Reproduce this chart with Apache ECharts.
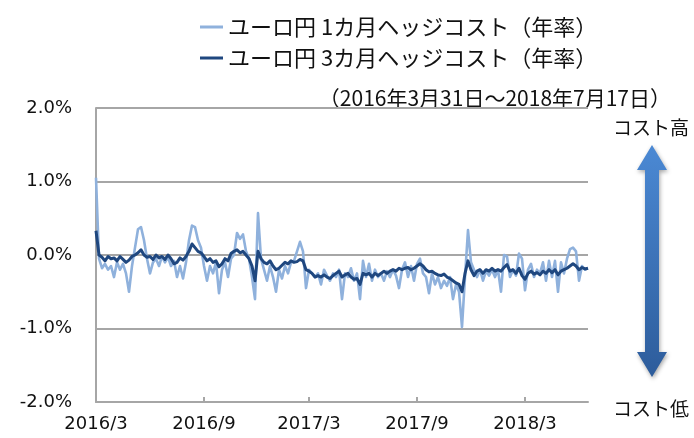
<!DOCTYPE html>
<html>
<head>
<meta charset="utf-8">
<script src="https://cdn.jsdelivr.net/npm/echarts@6/dist/echarts.min.js"></script>
<style>
html,body{margin:0;padding:0;background:#fff;}
#c{width:694px;height:438px;}
</style>
</head>
<body>
<div id="c"></div>
<script>
// ---- data (values in %) ----
const seriesNames = ['ユーロ円 1カ月ヘッジコスト（年率）', 'ユーロ円 3カ月ヘッジコスト（年率）'];
const subtitle = '（2016年3月31日～2018年7月17日）';
const startDate = '2016-03-31';
const endDate = '2018-07-17';
const tickLabels = ['2016/3', '2016/9', '2017/3', '2017/9', '2018/3'];
const tickIndex = [0, 36, 71, 107, 143];
const yTicks = [-2, -1, 0, 1, 2];

const hedge1M = [
  1.05, -0.05, -0.18, -0.12, -0.2, -0.15, -0.3, -0.1, -0.2, -0.12,
  -0.25, -0.5, -0.15, 0.1, 0.35, 0.38, 0.2, -0.05, -0.25, -0.1,
  -0.05, -0.15, -0.02, -0.1, -0.03, -0.15, -0.08, -0.3, -0.15, -0.32,
  -0.1, 0.2, 0.4, 0.38, 0.2, 0.1, -0.15, -0.35, -0.15, -0.25,
  -0.1, -0.52, -0.2, -0.1, -0.3, -0.05, 0.0, 0.3, 0.22, 0.28,
  0.05, -0.05, -0.3, -0.6, 0.57, -0.05, -0.2, -0.35, -0.15, -0.3,
  -0.5, -0.2, -0.32, -0.15, -0.25, -0.1, -0.08, 0.05, 0.18, 0.05,
  -0.45, -0.2, -0.25, -0.3, -0.25, -0.4, -0.2, -0.28, -0.35, -0.25,
  -0.3, -0.2, -0.6, -0.25, -0.3, -0.18, -0.35, -0.25, -0.6, -0.08,
  -0.3, -0.12, -0.35, -0.2, -0.3, -0.25, -0.35, -0.22, -0.3, -0.2,
  -0.28, -0.45, -0.2, -0.1, -0.3, -0.15, -0.35, -0.12, -0.05, -0.25,
  -0.3, -0.52, -0.25, -0.4, -0.3, -0.45, -0.35, -0.42, -0.3, -0.6,
  -0.4, -0.5, -0.98, -0.3, 0.34, -0.1, -0.2, -0.3, -0.2, -0.35,
  -0.22, -0.28, -0.2, -0.3, -0.2, -0.5, 0.0, -0.02, -0.3, -0.2,
  -0.28, 0.02, -0.05, -0.48, -0.2, -0.12, -0.3, -0.2, -0.25, -0.1,
  -0.35, -0.08, -0.3, -0.08, -0.5, -0.1, -0.25, -0.05, 0.08, 0.1,
  0.05, -0.35, -0.15, -0.2, -0.18
];
const hedge3M = [
  0.33, 0.0, -0.03, -0.08, -0.02, -0.05, -0.04, -0.08, -0.02, -0.06,
  -0.1, -0.07, -0.02, 0.0, 0.03, 0.07, 0.0, -0.03, -0.02, -0.06,
  0.0, -0.04, -0.02, -0.06, 0.0, -0.05, -0.12, -0.1, -0.04, -0.07,
  -0.02, 0.05, 0.15, 0.1, 0.05, 0.03, -0.02, -0.08, -0.05, -0.1,
  -0.08, -0.16, -0.12, -0.05, -0.08, 0.02, 0.05, 0.07, 0.03, 0.05,
  0.0, -0.05, -0.15, -0.35, 0.05, -0.05, -0.1, -0.12, -0.08, -0.15,
  -0.2, -0.18, -0.14, -0.1, -0.12, -0.08, -0.1, -0.09, -0.06, -0.08,
  -0.2, -0.22, -0.25, -0.3, -0.28, -0.3, -0.27, -0.3, -0.32, -0.28,
  -0.25, -0.22, -0.3, -0.27, -0.25, -0.3, -0.33, -0.32, -0.4, -0.25,
  -0.27, -0.25, -0.3, -0.25, -0.28, -0.25, -0.22, -0.25, -0.22, -0.2,
  -0.22, -0.18, -0.2, -0.18, -0.17, -0.2, -0.18, -0.15, -0.12, -0.15,
  -0.2, -0.23, -0.22, -0.25, -0.27, -0.28, -0.26, -0.3, -0.32, -0.35,
  -0.38, -0.4, -0.5, -0.25, -0.08, -0.2, -0.28, -0.22, -0.2, -0.25,
  -0.2, -0.22, -0.18, -0.22, -0.2, -0.22, -0.17, -0.13, -0.22, -0.2,
  -0.25, -0.18, -0.28, -0.33, -0.25, -0.22, -0.26, -0.24, -0.27, -0.22,
  -0.25, -0.2, -0.24, -0.2, -0.27, -0.22, -0.2, -0.18, -0.15, -0.12,
  -0.15, -0.2, -0.17, -0.19, -0.18
];

// category dates spread evenly between start and end (sampling positions)
const categories = (function () {
  const n = hedge1M.length;
  const t0 = Date.parse(startDate), t1 = Date.parse(endDate);
  const out = [];
  for (let i = 0; i < n; i++) {
    const d = new Date(t0 + (t1 - t0) * i / (n - 1));
    out.push(d.getUTCFullYear() + '/' + (d.getUTCMonth() + 1) + '/' + d.getUTCDate());
  }
  return out;
})();

const chart = echarts.init(document.getElementById('c'), null, {renderer: 'canvas'});
const showTick = (idx) => tickIndex.indexOf(idx) >= 0;
const gray = '#a6a6a6';
const jp = '"Noto Sans CJK JP", sans-serif';
const lightBlue = '#8fb1dc';
const darkBlue = '#1f477f';

chart.setOption({
  animation: false,
  backgroundColor: '#ffffff',
  grid: {left: 96, right: 106, top: 108, bottom: 36, containLabel: false},
  legend: {
    orient: 'vertical',
    left: 195,
    top: 10,
    itemWidth: 23,
    itemHeight: 3,
    itemGap: 7,
    data: [
      {name: seriesNames[0], icon: 'rect', itemStyle: {color: lightBlue}},
      {name: seriesNames[1], icon: 'rect', itemStyle: {color: darkBlue}}
    ],
    textStyle: {fontFamily: jp, fontSize: 22, color: '#111', lineHeight: 24}
  },
  xAxis: {
    type: 'category',
    data: categories,
    boundaryGap: false,
    axisLine: {show: true, onZero: false, lineStyle: {color: gray, width: 2}},
    axisTick: {show: true, inside: true, length: 5, interval: showTick, lineStyle: {color: gray, width: 2}},
    axisLabel: {
      interval: showTick,
      margin: 13,
      fontFamily: 'DejaVu Sans', fontSize: 18, color: '#111',
      formatter: (v, idx) => tickLabels[tickIndex.indexOf(idx)] || ''
    },
    splitLine: {show: false}
  },
  yAxis: {
    type: 'value',
    min: yTicks[0], max: yTicks[yTicks.length - 1], interval: 1,
    axisLine: {show: true, lineStyle: {color: gray, width: 2}},
    axisTick: {show: false},
    axisLabel: {
      margin: 24,
      fontFamily: 'DejaVu Sans', fontSize: 18, color: '#111',
      formatter: (v) => v.toFixed(1) + '%'
    },
    splitLine: {show: true, lineStyle: {color: gray, width: 2}}
  },
  series: [
    {
      name: seriesNames[0], type: 'line', data: hedge1M,
      symbol: 'none', lineStyle: {color: lightBlue, width: 2.6, join: 'round'},
      itemStyle: {color: lightBlue}, z: 2
    },
    {
      name: seriesNames[1], type: 'line', data: hedge3M,
      symbol: 'none', lineStyle: {color: darkBlue, width: 3, join: 'round'},
      itemStyle: {color: darkBlue}, z: 3
    }
  ],
  graphic: [
    {
      type: 'text', x: 671, y: 98,
      style: {text: subtitle, fontFamily: jp, fontSize: 21, fill: '#111', align: 'right', verticalAlign: 'middle'}
    },
    {
      type: 'text', x: 651, y: 128,
      style: {text: 'コスト高', fontFamily: jp, fontSize: 19, fill: '#111', align: 'center', verticalAlign: 'middle'}
    },
    {
      type: 'text', x: 651, y: 409,
      style: {text: 'コスト低', fontFamily: jp, fontSize: 19, fill: '#111', align: 'center', verticalAlign: 'middle'}
    },
    {
      type: 'polygon',
      shape: {points: [[652,145],[667,170],[659,170],[659,352],[667,352],[652,377],[637,352],[645,352],[645,170],[637,170]]},
      style: {
        fill: new echarts.graphic.LinearGradient(0, 0, 0, 1, [
          {offset: 0, color: '#4b89d4'}, {offset: 1, color: '#2d5c9b'}
        ]),
        shadowBlur: 4, shadowColor: 'rgba(0,0,0,0.35)', shadowOffsetX: 1, shadowOffsetY: 2
      }
    }
  ]
});
</script>
</body>
</html>
